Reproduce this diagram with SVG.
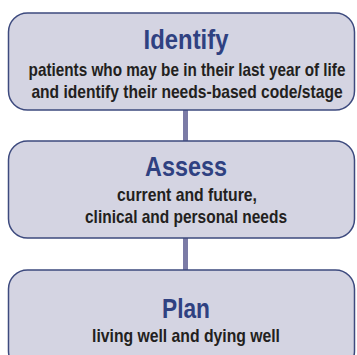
<svg xmlns="http://www.w3.org/2000/svg" width="357" height="355" viewBox="0 0 357 355">
<style>
.box{fill:#d4d4e2;stroke:#3d4a7e;stroke-width:1.5}
.title{font-family:"Liberation Sans",Arial,sans-serif;font-weight:bold;font-size:27px;fill:#2f4181;text-anchor:middle}
.body{font-family:"Liberation Sans",Arial,sans-serif;font-weight:bold;font-size:18px;fill:#231f20;text-anchor:middle}
.conn{stroke:#7b7ba6;stroke-width:5;fill:none}
</style>
<rect width="357" height="355" fill="#ffffff"/>
<g id="connectors">
<line class="conn" x1="185.5" y1="110" x2="185.5" y2="141"/>
<line class="conn" x1="185.5" y1="238" x2="185.5" y2="270"/>
</g>
<g id="identify">
<rect class="box" x="8.5" y="13" width="346" height="97" rx="19"/>
<text class="title" transform="translate(186,49) scale(0.8,1)" textLength="106" lengthAdjust="spacingAndGlyphs">Identify</text>
<text class="body" transform="translate(187,76) scale(0.8,1)" textLength="396" lengthAdjust="spacingAndGlyphs">patients who may be in their last year of life</text>
<text class="body" transform="translate(187,98) scale(0.8,1)" textLength="389" lengthAdjust="spacingAndGlyphs">and identify their needs-based code/stage</text>
</g>
<g id="assess">
<rect class="box" x="8.5" y="141" width="346" height="97" rx="19"/>
<text class="title" transform="translate(186,176) scale(0.8,1)" textLength="102.5" lengthAdjust="spacingAndGlyphs">Assess</text>
<text class="body" transform="translate(187,201) scale(0.8,1)" textLength="175" lengthAdjust="spacingAndGlyphs">current and future,</text>
<text class="body" transform="translate(186,223) scale(0.8,1)" textLength="252.5" lengthAdjust="spacingAndGlyphs">clinical and personal needs</text>
</g>
<g id="plan">
<rect class="box" x="8.5" y="270" width="346" height="100" rx="19"/>
<text class="title" transform="translate(186,318) scale(0.8,1)" textLength="60" lengthAdjust="spacingAndGlyphs">Plan</text>
<text class="body" transform="translate(186,342) scale(0.8,1)" textLength="235" lengthAdjust="spacingAndGlyphs">living well and dying well</text>
</g>
</svg>
